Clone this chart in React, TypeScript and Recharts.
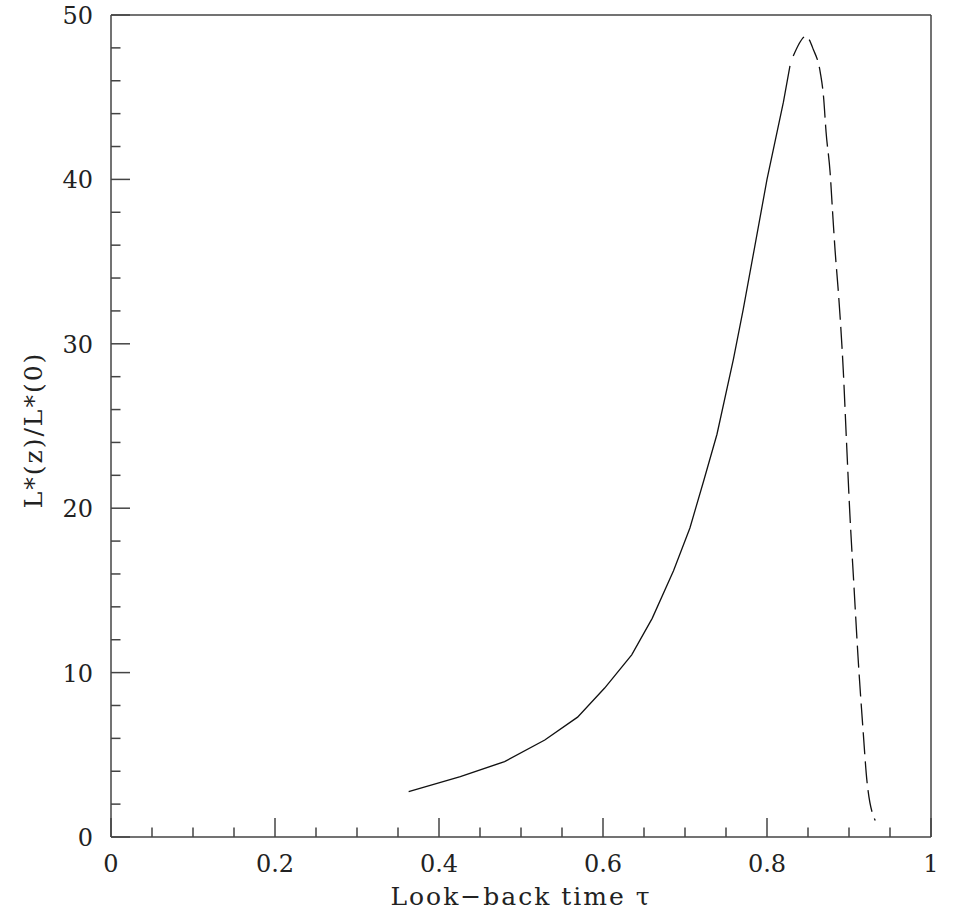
import { LineChart, Line, XAxis, YAxis, Label } from 'recharts';

// solid part of the curve (tau, L*(z)/L*(0))
const solidTau = [0.363, 0.426, 0.48, 0.529, 0.569, 0.602, 0.635, 0.66, 0.686, 0.706, 0.723, 0.739, 0.759, 0.771, 0.785, 0.8, 0.82, 0.828];
const solidLum = [2.76, 3.67, 4.59, 5.9, 7.29, 9.06, 11.08, 13.3, 16.2, 18.8, 21.7, 24.5, 29.05, 32.1, 35.9, 40.0, 44.7, 46.9];

// dashed part past the peak
const dashTau = [0.832, 0.8476, 0.8565, 0.865, 0.869, 0.872, 0.877, 0.88, 0.883, 0.8874, 0.893, 0.897, 0.901, 0.906, 0.911, 0.917, 0.922, 0.932];
const dashLum = [47.5, 48.7, 47.9, 46.5, 45.0, 42.9, 40.4, 38.0, 35.7, 32.9, 28.4, 24.0, 19.7, 15.3, 10.96, 6.6, 3.35, 1.0];

const xTicks = [0, 0.05, 0.1, 0.15, 0.2, 0.25, 0.3, 0.35, 0.4, 0.45, 0.5, 0.55, 0.6, 0.65, 0.7, 0.75, 0.8, 0.85, 0.9, 0.95, 1];
const xMajor = [0, 0.2, 0.4, 0.6, 0.8, 1];
const yTicks = [0, 2, 4, 6, 8, 10, 12, 14, 16, 18, 20, 22, 24, 26, 28, 30, 32, 34, 36, 38, 40, 42, 44, 46, 48, 50];
const yMajor = [0, 10, 20, 30, 40, 50];

const solidData = solidTau.map((t, i) => ({ tau: t, lum: solidLum[i] }));
const dashData = dashTau.map((t, i) => ({ tau: t, lum: dashLum[i] }));

const FONT = '"DejaVu Serif", serif';
const AXIS = '#444';
const MAJOR = 19;
const MINOR = 9.5;

function BottomTick({ x, y, payload }: any) {
  const major = xMajor.includes(payload.value);
  return (
    <g>
      <line x1={x} x2={x} y1={y} y2={y - (major ? MAJOR : MINOR)} stroke={AXIS} strokeWidth={1.5} />
      {major && (
        <text x={x} y={y + 35} textAnchor="middle" fontFamily={FONT} fontSize={24} fill="#222">
          {String(payload.value)}
        </text>
      )}
    </g>
  );
}

function TopTick({ x, y, payload }: any) {
  const major = xMajor.includes(payload.value);
  return <line x1={x} x2={x} y1={y} y2={y + (major ? MAJOR : MINOR)} stroke={AXIS} strokeWidth={1.5} />;
}

function LeftTick({ x, y, payload }: any) {
  const major = yMajor.includes(payload.value);
  return (
    <g>
      <line x1={x} x2={x + (major ? MAJOR : MINOR)} y1={y} y2={y} stroke={AXIS} strokeWidth={1.5} />
      {major && (
        <text x={x - 18} y={y + 9} textAnchor="end" fontFamily={FONT} fontSize={24} fill="#222">
          {String(payload.value)}
        </text>
      )}
    </g>
  );
}

function RightTick({ x, y, payload }: any) {
  const major = yMajor.includes(payload.value);
  return <line x1={x} x2={x - (major ? MAJOR : MINOR)} y1={y} y2={y} stroke={AXIS} strokeWidth={1.5} />;
}

export default function App() {
  return (
    <div style={{ position: 'absolute', left: 0, top: 0, background: '#fff' }}>
      <LineChart width={962} height={921} margin={{ top: 0, right: 0, bottom: 0, left: 0 }}>
        <XAxis
          xAxisId="b"
          type="number"
          dataKey="tau"
          domain={[0, 1]}
          ticks={xTicks}
          interval={0}
          orientation="bottom"
          height={84}
          tickSize={0}
          tickMargin={0}
          tick={<BottomTick />}
          stroke={AXIS}
          strokeWidth={1.5}
        >
          <Label
            content={({ viewBox }: any) => (
              <text
                x={viewBox.x + viewBox.width / 2}
                y={viewBox.y + 68}
                textAnchor="middle"
                fontFamily={FONT}
                fontSize={25}
                letterSpacing={2}
                fill="#222"
              >
                Look−back time τ
              </text>
            )}
          />
        </XAxis>
        <XAxis
          xAxisId="t"
          type="number"
          dataKey="tau"
          domain={[0, 1]}
          ticks={xTicks}
          interval={0}
          orientation="top"
          height={15}
          tickSize={0}
          tickMargin={0}
          tick={<TopTick />}
          stroke={AXIS}
          strokeWidth={1.5}
        />
        <YAxis
          yAxisId="l"
          type="number"
          domain={[0, 50]}
          ticks={yTicks}
          interval={0}
          orientation="left"
          width={111}
          tickSize={0}
          tickMargin={0}
          tick={<LeftTick />}
          stroke={AXIS}
          strokeWidth={1.5}
        >
          <Label
            content={({ viewBox }: any) => {
              const cx = viewBox.x + 42;
              const cy = viewBox.y + viewBox.height / 2 + 4;
              return (
                <text
                  x={cx}
                  y={cy}
                  transform={`rotate(-90 ${cx} ${cy})`}
                  textAnchor="middle"
                  fontFamily={FONT}
                  fontSize={25}
                  letterSpacing={2}
                  fill="#222"
                >
                  L*(z)/L*(0)
                </text>
              );
            }}
          />
        </YAxis>
        <YAxis
          yAxisId="r"
          type="number"
          domain={[0, 50]}
          ticks={yTicks}
          interval={0}
          orientation="right"
          width={31}
          tickSize={0}
          tickMargin={0}
          tick={<RightTick />}
          stroke={AXIS}
          strokeWidth={1.5}
        />
        <Line
          xAxisId="b"
          yAxisId="l"
          data={solidData}
          dataKey="lum"
          type="linear"
          stroke="#111"
          strokeWidth={1.3}
          dot={false}
          isAnimationActive={false}
        />
        <Line
          xAxisId="b"
          yAxisId="l"
          data={dashData}
          dataKey="lum"
          type="monotone"
          stroke="#111"
          strokeWidth={1.3}
          strokeDasharray="22 7"
          dot={false}
          isAnimationActive={false}
        />
      </LineChart>
    </div>
  );
}
